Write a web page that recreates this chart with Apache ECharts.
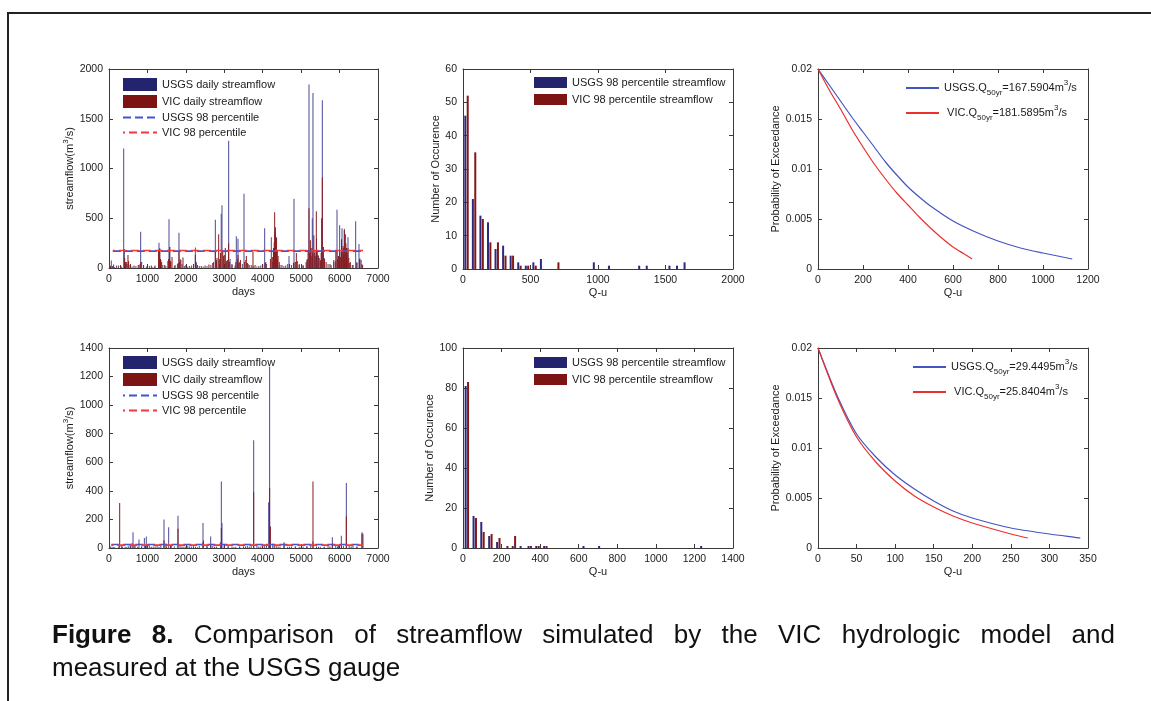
<!DOCTYPE html>
<html><head><meta charset="utf-8">
<script src="https://cdn.jsdelivr.net/npm/echarts@6/dist/echarts.min.js"></script>
<style>html,body{margin:0;padding:0;background:#fff}#c{width:1151px;height:701px}</style>
</head><body><div id="c"></div>
<script>
// ---------- data: top row (gauge 1) ----------
const usgsDaily1 = [[20,30],[60,75],[90,20],[150,10],[250,25],[330,15],[382,1200],[400,190],[430,60],[470,40],[520,30],[600,15],[700,20],[780,30],[824,365],[850,60],[900,25],[980,15],[1050,20],[1120,10],[1200,25],[1301,255],[1320,200],[1350,80],[1400,30],[1480,20],[1530,70],[1561,490],[1580,210],[1610,60],[1700,20],[1780,40],[1821,355],[1850,90],[1900,40],[1960,20],[2050,15],[2150,25],[2247,205],[2270,60],[2350,20],[2450,15],[2550,20],[2650,30],[2720,60],[2767,485],[2800,80],[2880,40],[2920,545],[2940,630],[2980,120],[3050,60],[3114,1280],[3150,90],[3200,30],[3280,25],[3313,320],[3357,295],[3400,60],[3470,40],[3513,745],[3560,80],[3650,30],[3750,20],[3850,15],[3950,25],[4051,400],[4100,40],[4224,310],[4260,60],[4320,360],[4380,80],[4450,30],[4550,20],[4650,40],[4684,120],[4750,30],[4814,695],[4860,60],[4950,30],[5050,20],[5150,80],[5204,1845],[5250,200],[5290,500],[5308,1760],[5350,150],[5400,300],[5450,120],[5500,60],[5530,500],[5551,1685],[5600,100],[5700,40],[5780,30],[5850,60],[5900,180],[5933,585],[5980,120],[6002,430],[6040,160],[6063,400],[6100,200],[6124,395],[6170,150],[6219,310],[6260,50],[6330,30],[6419,470],[6450,60],[6505,240],[6530,95],[6580,40]];
const vicDaily1 = [[40,20],[120,35],[200,25],[300,30],[408,100],[420,45],[460,60],[494,130],[510,70],[560,40],[650,25],[760,30],[810,40],[830,60],[900,30],[1000,20],[1100,25],[1180,15],[1290,170],[1320,190],[1340,90],[1370,60],[1450,30],[1550,90],[1580,210],[1600,70],[1640,110],[1720,30],[1800,50],[1821,160],[1840,60],[1870,80],[1925,105],[2000,30],[2100,20],[2200,40],[2247,130],[2260,50],[2300,30],[2400,20],[2500,25],[2600,35],[2700,50],[2767,170],[2790,60],[2810,100],[2854,340],[2880,90],[2900,150],[2960,180],[3000,130],[3027,200],[3050,70],[3080,80],[3114,250],[3140,60],[3200,40],[3300,60],[3340,90],[3357,130],[3380,50],[3420,80],[3530,60],[3574,120],[3600,50],[3620,40],[3700,30],[3747,160],[3800,30],[3900,20],[4000,35],[4060,50],[4080,60],[4200,90],[4250,110],[4280,200],[4300,260],[4311,560],[4330,410],[4345,300],[4360,310],[4380,180],[4400,120],[4430,60],[4500,30],[4600,25],[4700,40],[4800,50],[4840,60],[4875,150],[4900,70],[4950,40],[5050,30],[5130,60],[5160,90],[5180,180],[5204,600],[5220,150],[5240,280],[5260,120],[5280,200],[5300,140],[5330,330],[5360,180],[5380,120],[5395,570],[5420,180],[5440,130],[5470,100],[5500,80],[5520,150],[5551,910],[5580,210],[5610,90],[5650,60],[5750,40],[5850,80],[5900,70],[5933,180],[5950,90],[5970,120],[6002,170],[6020,110],[6050,290],[6070,160],[6090,220],[6110,130],[6124,380],[6150,340],[6165,250],[6180,200],[6200,150],[6219,200],[6240,100],[6280,60],[6350,30],[6450,50],[6520,90],[6560,80],[6600,30]];
const pctSpan1 = [100, 6610];
const usgsPct1 = 170;
const vicPct1 = 176;
const usgsHist1 = [[26,46],[82,21],[138,16],[194,14],[250,6],[306,7],[362,4],[418,2],[474,1],[530,2],[586,3],[978,2],[1090,1],[1314,1],[1370,1],[1538,1],[1594,1],[1650,2]];
const vicHist1 = [[26,52],[82,35],[138,15],[194,8],[250,8],[306,4],[362,4],[418,1],[474,1],[530,1],[698,2]];
const usgsExc1 = [[0,0.0200],[50,0.0184],[100,0.0168],[150,0.0152],[200,0.0137],[250,0.0122],[300,0.0107],[350,0.0094],[400,0.0082],[450,0.0072],[500,0.0063],[600,0.0048],[700,0.0037],[800,0.0028],[900,0.0021],[1000,0.0016],[1130,0.0010]];
const vicExc1 = [[0,0.0200],[50,0.0179],[100,0.0160],[150,0.0140],[200,0.0122],[250,0.0105],[300,0.0090],[350,0.0076],[400,0.0064],[450,0.0052],[500,0.0041],[550,0.0031],[600,0.0022],[650,0.0015],[685,0.0010]];
const q50_1 = ['167.5904', '181.5895'];

// ---------- data: bottom row (gauge 2) ----------
const usgsDaily2 = [[20,15],[80,8],[150,5],[250,10],[330,20],[420,8],[500,15],[560,20],[600,35],[625,110],[680,15],[780,60],[850,10],[920,70],[970,80],[1050,20],[1150,10],[1250,15],[1350,20],[1431,200],[1480,30],[1553,145],[1620,20],[1700,10],[1795,225],[1850,20],[1950,10],[2050,15],[2150,10],[2250,8],[2350,15],[2446,175],[2460,55],[2550,20],[2646,80],[2700,15],[2800,10],[2900,40],[2923,465],[2940,175],[3000,25],[3100,15],[3200,10],[3300,8],[3400,10],[3500,12],[3600,15],[3700,20],[3765,755],[3850,20],[3950,10],[4050,25],[4100,30],[4155,320],[4180,1270],[4260,30],[4350,15],[4450,10],[4554,20],[4650,8],[4750,10],[4850,12],[4950,8],[5050,10],[5150,12],[5250,15],[5308,45],[5400,10],[5500,8],[5600,10],[5700,15],[5812,75],[5900,15],[5970,20],[6046,85],[6100,15],[6176,455],[6250,20],[6350,15],[6450,10],[6584,110],[6610,100]];
const vicDaily2 = [[30,10],[120,5],[278,315],[350,8],[450,5],[550,10],[650,15],[750,8],[850,10],[950,20],[1000,25],[1100,8],[1200,10],[1300,8],[1431,55],[1500,10],[1600,15],[1795,135],[1900,10],[2000,8],[2100,10],[2200,12],[2300,5],[2446,40],[2550,10],[2650,20],[2750,8],[2923,140],[3000,15],[3100,8],[3250,5],[3400,8],[3550,10],[3650,8],[3765,390],[3900,10],[4000,15],[4180,420],[4200,150],[4300,15],[4400,10],[4554,40],[4700,8],[4850,5],[5000,8],[5150,10],[5308,465],[5450,8],[5600,5],[5750,10],[5812,30],[5950,10],[6050,15],[6176,220],[6300,10],[6450,8],[6584,100]];
const pctSpan2 = [60, 6610];
const usgsPct2 = 25;
const vicPct2 = 20;
const usgsHist2 = [[20,81],[61,16],[101,13],[142,6],[183,3],[264,1],[305,1],[346,1],[386,1],[427,1],[631,1],[712,1],[1241,1]];
const vicHist2 = [[20,83],[61,15],[101,8],[142,7],[183,5],[224,1],[264,6],[346,1],[386,1],[427,1]];
const usgsExc2 = [[0,0.0200],[25,0.0152],[50,0.0114],[75,0.0091],[100,0.0073],[125,0.0059],[150,0.0047],[175,0.0037],[200,0.0030],[250,0.0020],[300,0.0014],[340,0.0010]];
const vicExc2 = [[0,0.0200],[25,0.0150],[50,0.0111],[75,0.0086],[100,0.0067],[125,0.0052],[150,0.0041],[175,0.0032],[200,0.0025],[250,0.0014],[272,0.0010]];
const q50_2 = ['29.4495', '25.8404'];

// ---------- axis ranges / ticks ----------
const dayTicks = {min:0, max:7000, interval:1000};
const flow1Ticks = {min:0, max:2000, interval:500};
const flow2Ticks = {min:0, max:1400, interval:200};
const qu1Ticks = {min:0, max:2000, interval:500};
const qu2Ticks = {min:0, max:1400, interval:200};
const cnt1Ticks = {min:0, max:60, interval:10};
const cnt2Ticks = {min:0, max:100, interval:20};
const exc1XTicks = {min:0, max:1200, interval:200};
const exc2XTicks = {min:0, max:350, interval:50};
const probTicks = {min:0, max:0.02, interval:0.005};

const captionLine1 = [['Figure',true],['8.',true],['Comparison',false],['of',false],['streamflow',false],['simulated',false],['by',false],['the',false],['VIC',false],['hydrologic',false],['model',false],['and',false]];
const captionLine2 = 'measured at the USGS gauge';

// ---------- styling ----------
const FONT = '"Liberation Sans", Arial, Helvetica, sans-serif';
const AX = '#3a3a3a';
const TXT = '#1a1a1a';
const NAVY = '#24246e', DRED = '#7c1414';
const BLUE = '#4356c0', RED = '#ec2f2f';
const NOSYM = {color:'rgba(0,0,0,0)', opacity:0, borderWidth:0, borderColor:'rgba(0,0,0,0)'};

const grids = [
  {left:109, top:69, width:269, height:199},
  {left:463, top:69, width:270, height:200},
  {left:818, top:69, width:270, height:200},
  {left:109, top:348, width:269, height:200},
  {left:463, top:348, width:270, height:200},
  {left:818, top:348, width:270, height:200}
];

function plainNum(v) { return String(parseFloat(Number(v).toFixed(4))); }

const xAxes = [], yAxes = [];
function axisPair(list, gi, t, isX, name, nameGap, nameRich) {
  const base = {gridIndex:gi, type:'value', min:t.min, max:t.max, interval:t.interval,
    axisLine:{show:true, onZero:false, lineStyle:{color:AX, width:1}},
    axisTick:{show:true, inside:true, length:4, lineStyle:{color:AX}},
    splitLine:{show:false}};
  list.push(Object.assign({}, base, {
    position: isX ? 'bottom' : 'left',
    name: name, nameLocation:'middle', nameGap: nameGap,
    nameTextStyle: {fontFamily:FONT, fontSize:11, color:TXT, rich: nameRich || {}},
    axisLabel:{show:true, fontFamily:FONT, fontSize:10.5, color:TXT, margin:6, formatter:plainNum}
  }));
  list.push(Object.assign({}, base, {position: isX ? 'top' : 'right', axisLabel:{show:false}}));
}
const flowName = '{a|streamflow(m}{s|3}{a|/s)}';
const flowRich = {a:{fontFamily:FONT, fontSize:11, color:TXT, lineHeight:16, verticalAlign:'middle'}, s:{fontFamily:FONT, fontSize:8, color:TXT, lineHeight:8, verticalAlign:'top'}};
axisPair(xAxes, 0, dayTicks, true, 'days', 18);
axisPair(yAxes, 0, flow1Ticks, false, flowName, 22, flowRich);
axisPair(xAxes, 1, qu1Ticks, true, 'Q-u', 18);
axisPair(yAxes, 1, cnt1Ticks, false, 'Number of Occurence', 20);
axisPair(xAxes, 2, exc1XTicks, true, 'Q-u', 18);
axisPair(yAxes, 2, probTicks, false, 'Probability of Exceedance', 36);
axisPair(xAxes, 3, dayTicks, true, 'days', 18);
axisPair(yAxes, 3, flow2Ticks, false, flowName, 22, flowRich);
axisPair(xAxes, 4, qu2Ticks, true, 'Q-u', 18);
axisPair(yAxes, 4, cnt2Ticks, false, 'Number of Occurence', 20);
axisPair(xAxes, 5, exc2XTicks, true, 'Q-u', 18);
axisPair(yAxes, 5, probTicks, false, 'Probability of Exceedance', 36);

const series = [];
function dailyPanel(p, usgs, vic, span, up, vp) {
  series.push({type:'bar', name:'USGS daily streamflow', xAxisIndex:2*p, yAxisIndex:2*p, data:usgs, barWidth:1, itemStyle:{color:'#4a4a98'}});
  series.push({type:'bar', name:'VIC daily streamflow', xAxisIndex:2*p, yAxisIndex:2*p, data:vic, barWidth:1, barGap:'-100%', itemStyle:{color:'#8a1a1a'}});
  series.push({type:'line', name:'USGS 98 percentile', xAxisIndex:2*p, yAxisIndex:2*p, data:[[span[0],up],[span[1],up]], symbol:'none', itemStyle:{color:'#3f55d8'}, lineStyle:{color:'#3f55d8', width:1.6, type:[8,4]}, z:5});
  series.push({type:'line', name:'VIC 98 percentile', xAxisIndex:2*p, yAxisIndex:2*p, data:[[span[0],vp],[span[1],vp]], symbol:'none', itemStyle:{color:'#f03a3a'}, lineStyle:{color:'#f03a3a', width:1.6, type:[8,4], dashOffset:6}, z:6});
}
function histPanel(p, usgs, vic) {
  series.push({type:'bar', name:'USGS 98 percentile streamflow', xAxisIndex:2*p, yAxisIndex:2*p, data:usgs, barWidth:2, barGap:'20%', itemStyle:{color:'#2a2a80'}});
  series.push({type:'bar', name:'VIC 98 percentile streamflow', xAxisIndex:2*p, yAxisIndex:2*p, data:vic, barWidth:2, barGap:'20%', itemStyle:{color:'#861616'}});
}
function excName(who, q) { return who + '.Q50yr=' + q + 'm3/s'; }
function excPanel(p, usgs, vic, q) {
  series.push({type:'line', name:excName('USGS', q[0]), xAxisIndex:2*p, yAxisIndex:2*p, data:usgs, smooth:0.25, symbol:'none', itemStyle:{color:BLUE}, lineStyle:{color:BLUE, width:1.2}});
  series.push({type:'line', name:excName('VIC', q[1]), xAxisIndex:2*p, yAxisIndex:2*p, data:vic, smooth:0.25, symbol:'none', itemStyle:{color:RED}, lineStyle:{color:RED, width:1.2}});
}
dailyPanel(0, usgsDaily1, vicDaily1, pctSpan1, usgsPct1, vicPct1);
histPanel(1, usgsHist1, vicHist1);
excPanel(2, usgsExc1, vicExc1, q50_1);
dailyPanel(3, usgsDaily2, vicDaily2, pctSpan2, usgsPct2, vicPct2);
histPanel(4, usgsHist2, vicHist2);
excPanel(5, usgsExc2, vicExc2, q50_2);

const legTxt = {fontFamily:FONT, fontSize:11, color:TXT};
function dailyLegend(top) {
  return {left:122, top:top, orient:'vertical', align:'left', padding:0, itemWidth:34, itemHeight:13, itemGap:4, selectedMode:false, textStyle:legTxt,
    data:[{name:'USGS daily streamflow', icon:'rect', itemStyle:{color:NAVY}},
          {name:'VIC daily streamflow', icon:'rect', itemStyle:{color:DRED}},
          {name:'USGS 98 percentile', itemStyle:NOSYM}, {name:'VIC 98 percentile', itemStyle:NOSYM}]};
}
function histLegend(top) {
  return {left:534, top:top, orient:'vertical', align:'left', padding:0, itemWidth:33, itemHeight:11, itemGap:6, selectedMode:false, textStyle:legTxt,
    data:[{name:'USGS 98 percentile streamflow', icon:'rect', itemStyle:{color:NAVY}},
          {name:'VIC 98 percentile streamflow', icon:'rect', itemStyle:{color:DRED}}]};
}
const excRich = {
  n:{fontFamily:FONT, fontSize:11, color:TXT, lineHeight:18, verticalAlign:'middle'},
  sub:{fontFamily:FONT, fontSize:8, color:TXT, lineHeight:8, verticalAlign:'bottom'},
  sup:{fontFamily:FONT, fontSize:8, color:TXT, lineHeight:8, verticalAlign:'top'}
};
function excLegend(left, top, q) {
  return {left:left, top:top, orient:'vertical', align:'left', padding:0, itemWidth:33, itemHeight:14, itemGap:7, selectedMode:false,
    textStyle:Object.assign({}, legTxt, {rich:excRich}),
    formatter: function (nm) {
      const m = nm.match(/^(\w+)\.Q50yr=([\d.]+)m3\/s$/);
      return '{n|' + (m[1] === 'VIC' ? ' ' : '') + m[1] + '.Q}{sub|50yr}{n|=' + m[2] + 'm}{sup|3}{n|/s}';
    },
    data:[{name:excName('USGS', q[0]), itemStyle:NOSYM}, {name:excName('VIC', q[1]), itemStyle:NOSYM}]};
}
const legends = [dailyLegend(78), histLegend(77), excLegend(905, 79, q50_1), dailyLegend(356), histLegend(357), excLegend(912, 358, q50_2)];

// ---------- caption (justified first line) ----------
const mctx = document.createElement('canvas').getContext('2d');
function fontStr(b) { return (b ? 'bold ' : '') + '26px ' + FONT; }
function tw(t, b) { mctx.font = fontStr(b); return mctx.measureText(t).width; }
const capLeft = 52, capRight = 1115, capY1 = 636, capY2 = 669;
const graphics = [];
let totalW = 0;
captionLine1.forEach(function (w) { totalW += tw(w[0], w[1]); });
const gapW = (capRight - capLeft - totalW) / (captionLine1.length - 1);
let cx = capLeft;
captionLine1.forEach(function (w) {
  graphics.push({type:'text', left:cx, top:capY1 - 13, silent:true,
    style:{text:w[0], font:fontStr(w[1]), fill:'#111'}});
  cx += tw(w[0], w[1]) + gapW;
});
graphics.push({type:'text', left:capLeft, top:capY2 - 13, silent:true, style:{text:captionLine2, font:fontStr(false), fill:'#111'}});
graphics.push({type:'polyline', silent:true, shape:{points:[[8,701],[8,13],[1151,13]]}, style:{stroke:'#222', lineWidth:2, fill:null}});

const chart = echarts.init(document.getElementById('c'), null, {renderer:'canvas'});
chart.setOption({
  animation:false,
  backgroundColor:'#fff',
  textStyle:{fontFamily:FONT},
  grid:grids,
  xAxis:xAxes,
  yAxis:yAxes,
  legend:legends,
  series:series,
  graphic:graphics
});
</script></body></html>
